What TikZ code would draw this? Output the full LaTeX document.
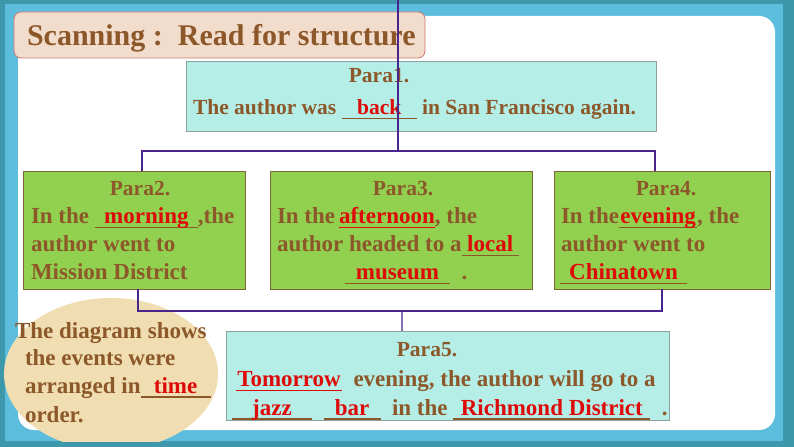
\documentclass[tikz,border=0pt]{standalone}
\usepackage{fontspec}
\setmainfont{Liberation Serif}
\usetikzlibrary{shapes.geometric}
\definecolor{darkteal}{RGB}{62,152,172}
\definecolor{frameblue}{RGB}{92,189,221}
\definecolor{titlefill}{RGB}{242,221,204}
\definecolor{titleedge}{RGB}{205,120,110}
\definecolor{aqua}{RGB}{180,238,231}
\definecolor{aquaedge}{RGB}{140,160,160}
\definecolor{leaf}{RGB}{146,208,80}
\definecolor{leafedge}{RGB}{125,100,55}
\definecolor{tan}{RGB}{240,222,178}
\definecolor{txtbrown}{RGB}{140,88,42}
\definecolor{ansred}{RGB}{222,10,10}
\definecolor{connc}{RGB}{72,36,140}
\newcommand{\blank}[2]{\rlap{\rule[-4.5bp]{#1}{1.4bp}}\makebox[#1][c]{\textcolor{ansred}{#2}}}
\newcommand{\rblank}[2]{{\color{ansred}\rlap{\rule[-4.5bp]{#1}{1.4bp}}\makebox[#1][c]{#2}}}
\tikzset{
  box/.style={inner sep=0pt, outer sep=0pt, line width=0.8bp},
  aquabox/.style={box, fill=aqua, draw=aquaedge},
  leafbox/.style={box, fill=leaf, draw=leafedge},
  txt/.style={inner sep=0pt, outer sep=0pt, text=txtbrown, font=\fontsize{23bp}{28bp}\selectfont\bfseries},
  ltxt/.style={txt, anchor=base west},
  ctxt/.style={txt, anchor=base},
  smalltxt/.style={font=\fontsize{21.5bp}{28bp}\selectfont\bfseries},
  conn/.style={draw=connc, line width=1.4bp},
}
\begin{document}
\begin{tikzpicture}[x=1bp,y=-1bp]
\useasboundingbox (0,0) rectangle (794,447);
% frame
\fill[darkteal] (0,0) rectangle (794,447);
\fill[frameblue] (5,4) rectangle (783,441);
\fill[white, rounded corners=16bp] (18,16) rectangle (775,430);
% ellipse
\begin{scope}
\clip (0,0) rectangle (794,441);
\node[ellipse, fill=tan, inner sep=0pt, minimum width=214bp, minimum height=152bp] (ell) at (111,374) {};
\end{scope}
% title
\node[box, fill=titlefill, draw=titleedge, rounded corners=7bp, minimum width=411bp, minimum height=46bp] (title) at (219.5,35) {};
\node[ltxt, font=\fontsize{30bp}{34bp}\selectfont\bfseries] (titletxt) at (27,46) {Scanning :\ \ Read for structure};
% boxes
\node[aquabox, minimum width=470bp, minimum height=70bp] (p1) at (421,96) {};
\node[leafbox, minimum width=222bp, minimum height=118bp] (p2) at (134,230) {};
\node[leafbox, minimum width=262bp, minimum height=118bp] (p3) at (401,230) {};
\node[leafbox, minimum width=216bp, minimum height=118bp] (p4) at (662,230) {};
\node[aquabox, minimum width=443bp, minimum height=89bp] (p5) at (447.5,375.5) {};
% para1
\node[ctxt, smalltxt] (p1a) at (379,83) {Para1.};
\node[ltxt, smalltxt] (p1b) at (193,115) {The author was \blank{75bp}{back} in San Francisco again.};
% para2
\node[ctxt, smalltxt] (p2a) at (140,196) {Para2.};
\node[ltxt] (p2b) at (31,224) {In the \blank{103bp}{morning},the};
\node[ltxt] (p2c) at (31,252) {author went to};
\node[ltxt] (p2d) at (31,280) {Mission District};
% para3
\node[ctxt, smalltxt] (p3a) at (403,196) {Para3.};
\node[ltxt] (p3b) at (277,224) {In the\,\rblank{96bp}{afternoon}, the};
\node[ltxt] (p3c) at (277,252) {author headed to a\blank{57bp}{local}};
\node[ltxt] (p3d) at (345,280) {\blank{105bp}{museum}\ \ .};
% para4
\node[ctxt, smalltxt] (p4a) at (666,196) {Para4.};
\node[ltxt] (p4b) at (561,224) {In the\blank{78bp}{evening}, the};
\node[ltxt] (p4c) at (561,252) {author went to};
\node[ltxt] (p4d) at (560,280) {\blank{127bp}{Chinatown}};
% para5
\node[ctxt, smalltxt] (p5a) at (427,357) {Para5.};
\node[ltxt] (p5b) at (236,387) {\rblank{106bp}{Tomorrow}\ \ evening, the author will go to a};
\node[ltxt] (p5c) at (232,415) {\blank{80bp}{jazz}\ \ \blank{57bp}{bar}\ \ in the \blank{197bp}{Richmond District}\ \ .};
% ellipse text
\node[ltxt] (e1) at (15,339) {The diagram shows};
\node[ltxt] (e2) at (25,366) {the events were};
\node[ltxt] (e3) at (25,393) {arranged in\blank{70bp}{time}};
\node[ltxt] (e4) at (25,422) {order.};
% connectors
\coordinate (top) at (398,0);
\coordinate (hub) at (398,151);
\coordinate (hub2) at (402,311);
\draw[conn] (top) -- (hub);
\draw[conn] ([xshift=8bp]p2.north) |- (hub) -| ([xshift=-7bp]p4.north);
\draw[conn] ([xshift=4bp]p2.south) |- (hub2) -| (p4.south);
\draw[conn] (hub2) -- ([xshift=-45.5bp]p5.north);
\end{tikzpicture}
\end{document}
